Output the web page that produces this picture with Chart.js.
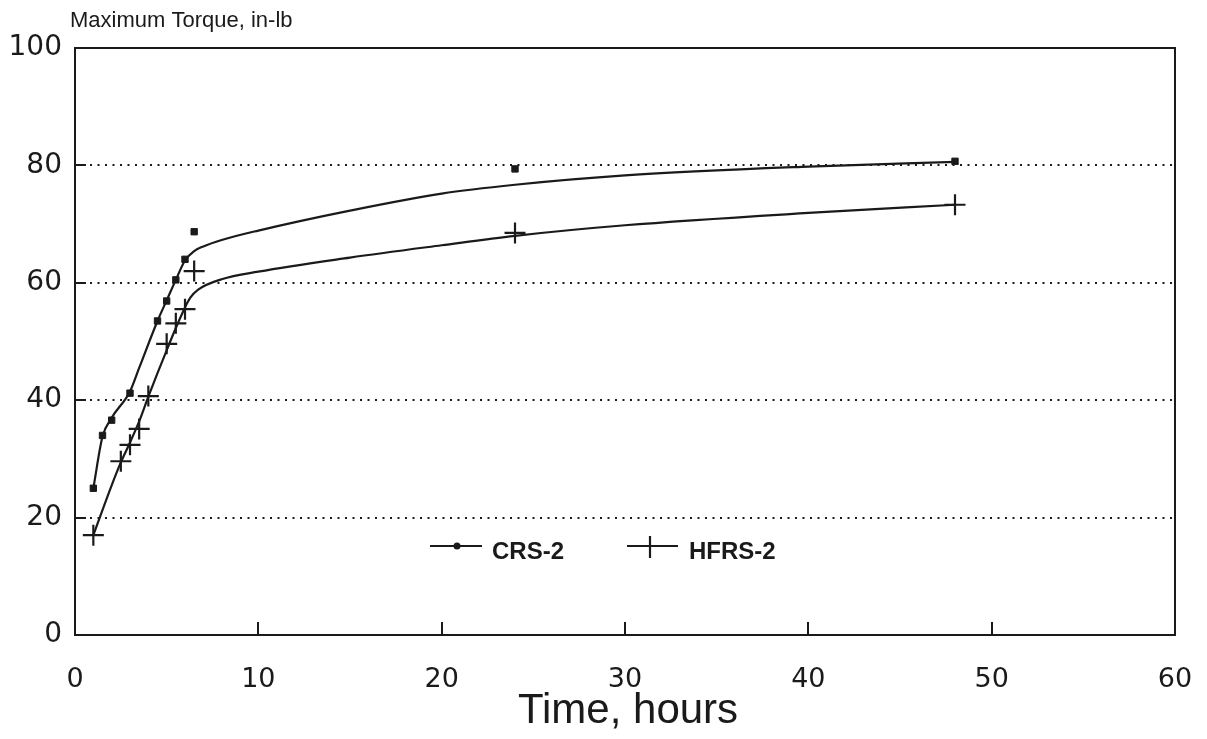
<!DOCTYPE html>
<html>
<head>
<meta charset="utf-8">
<script src="https://cdn.jsdelivr.net/npm/chart.js@4.4.0/dist/chart.umd.min.js"></script>
<style>
  html, body { margin: 0; padding: 0; background: #fff; }
</style>
</head>
<body>
<canvas id="torqueChart" width="1207" height="739"></canvas>
<script>
"use strict";

// measured points (hours, in-lb)
var crsHours = [1, 1.5, 2, 3, 4.5, 5, 5.5, 6, 6.5, 24, 48];
var crsTorque = [25, 34, 36.6, 41.2, 53.5, 56.9, 60.5, 64, 68.7, 79.4, 80.7];
var hfrsHours = [1, 2.5, 3, 3.5, 4, 5, 5.5, 6, 6.5, 24, 48];
var hfrsTorque = [17, 29.6, 32.4, 35.1, 40.7, 49.6, 53.1, 55.5, 62, 68.5, 73.3];

// fitted curves
var crsFitHours = [1, 1.5, 2, 3, 3.5, 4.5, 5, 5.5, 6, 6.5, 7, 8, 10, 15, 20, 24, 30, 40, 48];
var crsFitTorque = [25, 33.8, 37, 41.5, 45.5, 53.5, 57, 60.5, 63.8, 65.4, 66.2, 67.3, 68.9, 72.3, 75.2, 76.7, 78.3, 79.8, 80.6];
var hfrsFitHours = [1, 2, 2.5, 3, 3.5, 4, 4.5, 5, 5.5, 6, 6.3, 6.7, 8, 10, 15, 20, 24, 30, 40, 48];
var hfrsFitTorque = [17, 25.5, 29.4, 32.8, 36.4, 40.6, 44.6, 48.5, 52.3, 55.8, 57.5, 58.8, 60.6, 61.9, 64.3, 66.4, 68, 69.8, 71.9, 73.3];

var xTicks = [0, 10, 20, 30, 40, 50, 60];
var yTicks = [0, 20, 40, 60, 80, 100];

var seriesNames = ["CRS-2", "HFRS-2"];
var yTitle = "Maximum Torque, in-lb";
var xTitle = "Time, hours";

var ink = "#1a1a1a";

function toPoints(xs, ys) {
  return xs.map(function (x, i) { return { x: x, y: ys[i] }; });
}

var decorPlugin = {
  id: "decor",
  beforeDatasetsDraw: function (chart) {
    var ctx = chart.ctx;
    var area = chart.chartArea;
    var xs = chart.scales.x;
    var ys = chart.scales.y;
    ctx.save();
    ctx.strokeStyle = ink;
    ctx.lineWidth = 2;
    // short inward tick marks
    xTicks.slice(1, -1).forEach(function (v) {
      var px = Math.round(xs.getPixelForValue(v));
      ctx.beginPath();
      ctx.moveTo(px, area.bottom);
      ctx.lineTo(px, area.bottom - 13);
      ctx.stroke();
    });
    yTicks.slice(1, -1).forEach(function (v) {
      var py = Math.round(ys.getPixelForValue(v));
      ctx.beginPath();
      ctx.moveTo(area.left, py);
      ctx.lineTo(area.left + 11, py);
      ctx.stroke();
    });
    // frame
    ctx.strokeRect(area.left, area.top, area.right - area.left, area.bottom - area.top);
    ctx.restore();
  },
  afterDraw: function (chart) {
    var ctx = chart.ctx;
    ctx.save();
    ctx.fillStyle = ink;
    ctx.strokeStyle = ink;
    ctx.textBaseline = "middle";

    ctx.font = "22px 'Liberation Sans'";
    ctx.textAlign = "left";
    ctx.fillText(yTitle, 70, 21);

    ctx.font = "42px 'Liberation Sans'";
    ctx.textAlign = "center";
    ctx.fillText(xTitle, 628, 711);

    // legend
    var ly = 546;
    ctx.lineWidth = 2.2;
    ctx.beginPath();
    ctx.moveTo(430, ly);
    ctx.lineTo(482, ly);
    ctx.stroke();
    ctx.beginPath();
    ctx.arc(457, ly, 3.5, 0, Math.PI * 2);
    ctx.fill();

    ctx.beginPath();
    ctx.moveTo(627, ly);
    ctx.lineTo(678, ly);
    ctx.moveTo(650, ly - 10);
    ctx.lineTo(650, ly + 12);
    ctx.stroke();

    ctx.font = "bold 24px 'Liberation Sans'";
    ctx.textAlign = "left";
    ctx.fillText(seriesNames[0], 492, 552);
    ctx.fillText(seriesNames[1], 689, 552);
    ctx.restore();
  }
};

var canvas = document.getElementById("torqueChart");

new Chart(canvas, {
  type: "scatter",
  data: {
    datasets: [{
      label: seriesNames[0] + " fit",
      data: toPoints(crsFitHours, crsFitTorque),
      showLine: true,
      borderColor: ink,
      borderWidth: 2.2,
      pointRadius: 0,
      cubicInterpolationMode: "monotone"
    }, {
      label: seriesNames[1] + " fit",
      data: toPoints(hfrsFitHours, hfrsFitTorque),
      showLine: true,
      borderColor: ink,
      borderWidth: 2.2,
      pointRadius: 0,
      cubicInterpolationMode: "monotone"
    }, {
      label: seriesNames[0],
      data: toPoints(crsHours, crsTorque),
      showLine: false,
      pointStyle: "rect",
      pointRadius: 4.5,
      pointBackgroundColor: ink,
      pointBorderColor: ink,
      pointBorderWidth: 1
    }, {
      label: seriesNames[1],
      data: toPoints(hfrsHours, hfrsTorque),
      showLine: false,
      pointStyle: "cross",
      pointRadius: 10.5,
      pointBorderColor: ink,
      pointBorderWidth: 2.2
    }]
  },
  options: {
    responsive: false,
    animation: false,
    devicePixelRatio: 1,
    layout: {
      padding: { top: 48, right: 32, left: 0, bottom: 0 }
    },
    plugins: {
      legend: { display: false },
      tooltip: { enabled: false }
    },
    scales: {
      x: {
        type: "linear",
        min: 0,
        max: 60,
        afterBuildTicks: function (scale) {
          scale.ticks = xTicks.map(function (v) { return { value: v }; });
        },
        afterFit: function (scale) {
          scale.height = 104;
          scale.paddingLeft = 0;
          scale.paddingRight = 0;
        },
        grid: { display: false },
        border: { display: false },
        ticks: {
          color: ink,
          padding: 21,
          maxRotation: 0,
          font: { family: "'DejaVu Sans'", size: 27 }
        }
      },
      y: {
        min: 0,
        max: 100,
        afterBuildTicks: function (scale) {
          scale.ticks = yTicks.map(function (v) { return { value: v }; });
        },
        afterFit: function (scale) {
          scale.width = 75;
          scale.paddingTop = 0;
          scale.paddingBottom = 0;
        },
        grid: {
          drawTicks: false,
          lineWidth: 2,
          color: function (c) {
            var v = c.tick ? c.tick.value : 0;
            return (v === 0 || v === 100) ? "rgba(0,0,0,0)" : ink;
          }
        },
        border: { display: false, dash: [2, 5.5] },
        ticks: {
          color: ink,
          padding: 13,
          font: { family: "'DejaVu Sans'", size: 28 }
        }
      }
    }
  },
  plugins: [decorPlugin]
});
</script>
</body>
</html>
